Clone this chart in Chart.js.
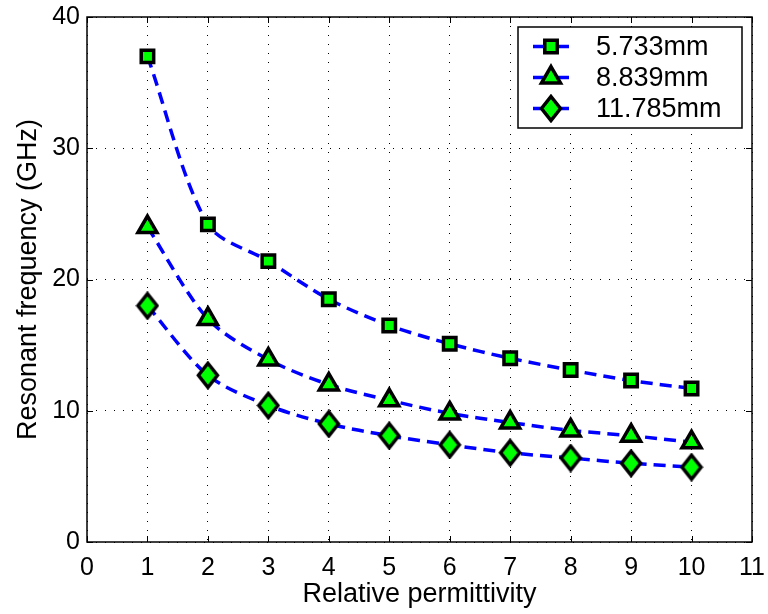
<!DOCTYPE html>
<html>
<head>
<meta charset="utf-8">
<script src="https://cdn.jsdelivr.net/npm/chart.js@4.4.1/dist/chart.umd.min.js"></script>
<style>
  html, body { margin: 0; padding: 0; background: #fff; }
  #wrap { width: 768px; height: 614px; }
</style>
</head>
<body>
<div id="wrap"><canvas id="chart" width="768" height="614"></canvas></div>
<script>
// relative permittivity values on the x axis
const permittivity = [1, 2, 3, 4, 5, 6, 7, 8, 9, 10];
// resonant frequency (GHz) for each patch size
const freq5733 = [37.0, 24.2, 21.4, 18.5, 16.5, 15.1, 14.0, 13.1, 12.3, 11.7];
const freq8839 = [24.0, 17.0, 13.9, 12.0, 10.8, 9.8, 9.1, 8.5, 8.1, 7.6];
const freq11785 = [18.0, 12.7, 10.4, 9.0, 8.1, 7.4, 6.8, 6.4, 6.0, 5.7];
const seriesLabels = ['5.733mm', '8.839mm', '11.785mm'];

const xTicks = [0, 1, 2, 3, 4, 5, 6, 7, 8, 9, 10, 11];
const yTicks = [0, 10, 20, 30, 40];

const FONT = 'Liberation Sans, Arial, Helvetica, sans-serif';
const GREEN = '#00ff00';
const BLUE = '#0000ff';

// tall diamond marker
function makeDiamond() {
  const c = document.createElement('canvas');
  c.width = 24; c.height = 29;
  const g = c.getContext('2d');
  g.beginPath();
  g.moveTo(12, 2.5);
  g.lineTo(21.5, 14.5);
  g.lineTo(12, 26.5);
  g.lineTo(2.5, 14.5);
  g.closePath();
  g.fillStyle = GREEN;
  g.fill();
  g.lineWidth = 3.5;
  g.lineJoin = 'miter';
  g.strokeStyle = '#000';
  g.stroke();
  return c;
}
const diamond = makeDiamond();

function toPoints(ys) {
  return permittivity.map((x, i) => ({ x: x, y: ys[i] }));
}

function series(label, ys, style, radius) {
  return {
    label: label,
    data: toPoints(ys),
    borderColor: BLUE,
    borderWidth: 3.5,
    borderDash: [12, 7],
    tension: 0.3,
    fill: false,
    pointStyle: style,
    pointRadius: radius,
    pointHoverRadius: radius,
    pointBackgroundColor: GREEN,
    pointBorderColor: '#000',
    pointBorderWidth: 3.5
  };
}

// axes box with inward tick marks
const frame = {
  id: 'frame',
  afterDraw(chart) {
    const { ctx, chartArea: a, scales } = chart;
    ctx.save();
    ctx.strokeStyle = '#000';
    ctx.lineWidth = 1.5;
    ctx.setLineDash([]);
    ctx.strokeRect(a.left, a.top, a.right - a.left, a.bottom - a.top);
    ctx.lineWidth = 1;
    const tl = 6;
    ctx.beginPath();
    xTicks.forEach(v => {
      const px = Math.round(scales.x.getPixelForValue(v)) + 0.5;
      ctx.moveTo(px, a.bottom); ctx.lineTo(px, a.bottom - tl);
      ctx.moveTo(px, a.top); ctx.lineTo(px, a.top + tl);
    });
    yTicks.forEach(v => {
      const py = Math.round(scales.y.getPixelForValue(v)) + 0.5;
      ctx.moveTo(a.left, py); ctx.lineTo(a.left + tl, py);
      ctx.moveTo(a.right, py); ctx.lineTo(a.right - tl, py);
    });
    ctx.stroke();
    ctx.restore();
  }
};

// boxed legend in the upper right corner
const legendBox = {
  id: 'legendBox',
  afterDraw(chart) {
    const { ctx } = chart;
    const box = { x: 518, y: 27, w: 224, h: 101 };
    ctx.save();
    ctx.fillStyle = '#fff';
    ctx.fillRect(box.x, box.y, box.w, box.h);
    ctx.strokeStyle = '#000';
    ctx.lineWidth = 1.5;
    ctx.strokeRect(box.x, box.y, box.w, box.h);
    chart.data.datasets.forEach((ds, i) => {
      const cy = 46.5 + i * 31;
      ctx.strokeStyle = BLUE;
      ctx.lineWidth = 3.5;
      ctx.beginPath();
      ctx.moveTo(533, cy); ctx.lineTo(569, cy);
      ctx.stroke();
      Chart.helpers.drawPoint(ctx, {
        pointStyle: ds.pointStyle,
        radius: ds.pointRadius,
        borderWidth: ds.pointBorderWidth,
        rotation: 0
      }, 551, cy);
      ctx.fillStyle = '#000';
      ctx.font = '27px ' + FONT;
      ctx.textAlign = 'left';
      ctx.textBaseline = 'middle';
      ctx.fillText(ds.label, 596, cy + 1);
    });
    ctx.restore();
  }
};

// drawPoint needs fill/stroke set on the context
const origDrawPoint = Chart.helpers.drawPoint;
Chart.helpers.drawPoint = function (ctx, opts, x, y) {
  ctx.fillStyle = GREEN;
  ctx.strokeStyle = '#000';
  ctx.lineWidth = opts.borderWidth;
  ctx.setLineDash([]);
  return origDrawPoint(ctx, opts, x, y);
};

new Chart(document.getElementById('chart'), {
  type: 'line',
  data: {
    datasets: [
      series(seriesLabels[0], freq5733, 'rect', 8.8),
      series(seriesLabels[1], freq8839, 'triangle', 11),
      series(seriesLabels[2], freq11785, diamond, 12)
    ]
  },
  options: {
    responsive: false,
    animation: false,
    layout: { padding: { top: 17, right: 16, left: 0, bottom: 0 } },
    plugins: {
      legend: { display: false },
      tooltip: { enabled: false }
    },
    scales: {
      x: {
        type: 'linear',
        min: 0,
        max: 11,
        afterFit(scale) {
          scale.height = 72;
          scale.paddingLeft = 0;
          scale.paddingRight = 0;
        },
        afterBuildTicks(scale) { scale.ticks = xTicks.map(v => ({ value: v })); },
        ticks: { color: '#000', padding: 11, maxRotation: 0, autoSkip: false, font: { family: FONT, size: 25 } },
        grid: { color: '#000', lineWidth: 1, drawTicks: false },
        border: { display: false, dash: [1, 8] },
        title: {
          display: true,
          text: 'Relative permittivity',
          color: '#000',
          font: { family: FONT, size: 27 },
          padding: { top: 0, bottom: 3 }
        }
      },
      y: {
        type: 'linear',
        min: 0,
        max: 40,
        afterFit(scale) {
          scale.width = 87;
          scale.paddingTop = 0;
          scale.paddingBottom = 0;
        },
        afterBuildTicks(scale) { scale.ticks = yTicks.map(v => ({ value: v })); },
        ticks: { color: '#000', padding: 7, font: { family: FONT, size: 25 } },
        grid: { color: '#000', lineWidth: 1, drawTicks: false },
        border: { display: false, dash: [1, 8] },
        title: {
          display: true,
          text: 'Resonant frequency (GHz)',
          color: '#000',
          font: { family: FONT, size: 27 },
          padding: { top: 12, bottom: 0 }
        }
      }
    }
  },
  plugins: [frame, legendBox]
});
</script>
</body>
</html>
